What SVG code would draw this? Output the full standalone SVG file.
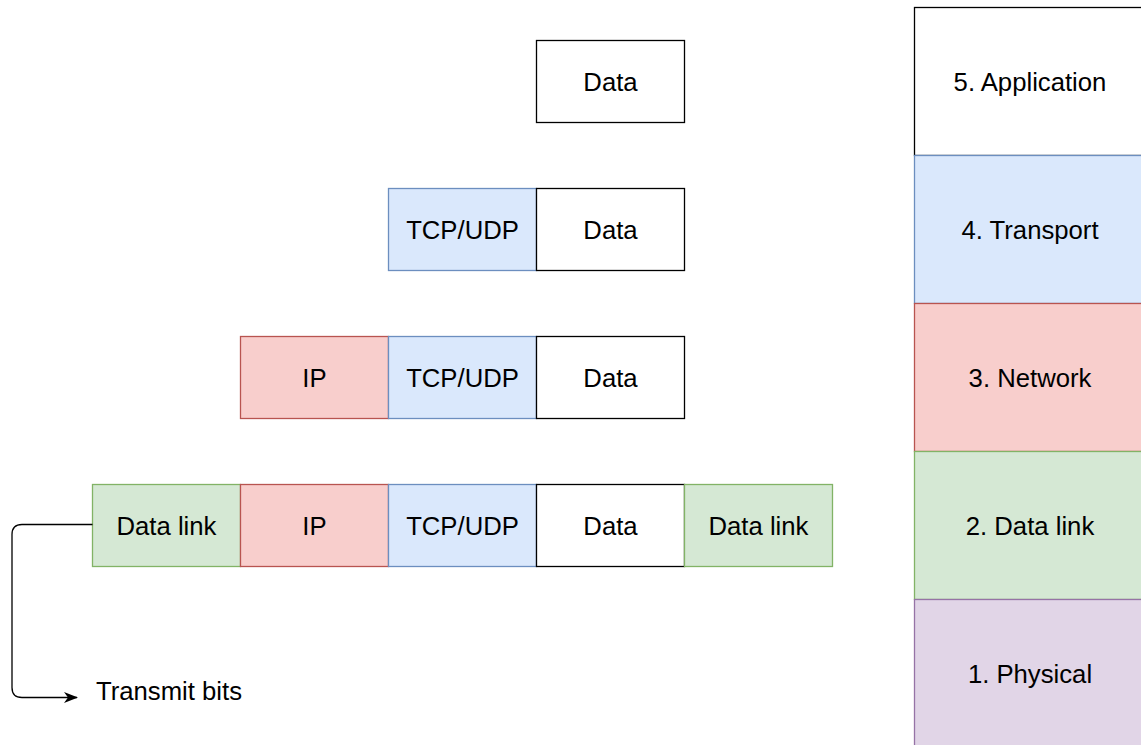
<svg xmlns="http://www.w3.org/2000/svg" width="1141" height="745" viewBox="0 0 1141 745">
<style>
text{font-family:"Liberation Sans",Arial,Helvetica,sans-serif;font-size:25.7px;fill:#000;text-anchor:middle}
.w{fill:#fff;stroke:#000;stroke-width:1.3}
.b{fill:#dae8fc;stroke:#6c8ebf;stroke-width:1.3}
.r{fill:#f8cecc;stroke:#b85450;stroke-width:1.3}
.g{fill:#d5e8d4;stroke:#82b366;stroke-width:1.3}
.p{fill:#e1d5e7;stroke:#9673a6;stroke-width:1.3}
.c{fill:none;stroke:#000;stroke-width:1.3}
</style>
<defs>
<marker id="ah" viewBox="0 0 14 12" refX="13" refY="6" markerWidth="14" markerHeight="12" markerUnits="userSpaceOnUse" orient="auto">
<path d="M0,0.5 L14,6 L0,11.5 L4,6 Z" fill="#000"/>
</marker>
</defs>
<g id="row1">
<g id="r1-data"><rect class="w" x="536.5" y="40.5" width="148" height="82"/><text x="610.5" y="90.5">Data</text></g>
</g>
<g id="row2">
<g id="r2-tcp"><rect class="b" x="388.5" y="188.5" width="148" height="82"/><text x="462.5" y="238.5">TCP/UDP</text></g>
<g id="r2-data"><rect class="w" x="536.5" y="188.5" width="148" height="82"/><text x="610.5" y="238.5">Data</text></g>
</g>
<g id="row3">
<g id="r3-ip"><rect class="r" x="240.5" y="336.5" width="148" height="82"/><text x="314.5" y="386.5">IP</text></g>
<g id="r3-tcp"><rect class="b" x="388.5" y="336.5" width="148" height="82"/><text x="462.5" y="386.5">TCP/UDP</text></g>
<g id="r3-data"><rect class="w" x="536.5" y="336.5" width="148" height="82"/><text x="610.5" y="386.5">Data</text></g>
</g>
<g id="row4">
<g id="r4-dl1"><rect class="g" x="92.5" y="484.5" width="148" height="82"/><text x="166.5" y="534.5">Data link</text></g>
<g id="r4-ip"><rect class="r" x="240.5" y="484.5" width="148" height="82"/><text x="314.5" y="534.5">IP</text></g>
<g id="r4-tcp"><rect class="b" x="388.5" y="484.5" width="148" height="82"/><text x="462.5" y="534.5">TCP/UDP</text></g>
<g id="r4-data"><rect class="w" x="536.5" y="484.5" width="148" height="82"/><text x="610.5" y="534.5">Data</text></g>
<g id="r4-dl2"><rect class="g" x="684.5" y="484.5" width="148" height="82"/><text x="758.5" y="534.5">Data link</text></g>
</g>
<g id="layers">
<g id="l5"><rect class="w" x="914.5" y="7.5" width="231" height="148"/><text x="1030" y="90.5">5. Application</text></g>
<g id="l4"><rect class="b" x="914.5" y="155.5" width="231" height="148"/><text x="1030" y="238.5">4. Transport</text></g>
<g id="l3"><rect class="r" x="914.5" y="303.5" width="231" height="148"/><text x="1030" y="386.5">3. Network</text></g>
<g id="l2"><rect class="g" x="914.5" y="451.5" width="231" height="148"/><text x="1030" y="534.5">2. Data link</text></g>
<g id="l1"><rect class="p" x="914.5" y="599.5" width="231" height="148"/><text x="1030" y="682.5">1. Physical</text></g>
</g>
<g id="label-transmit"><text x="96" y="700" style="text-anchor:start">Transmit bits</text></g>
<g id="connectors">
<path class="c" d="M92.5,524.5 H22 Q12,524.5 12,534.5 V687.5 Q12,697.5 22,697.5 H77" marker-end="url(#ah)"/>
</g>
</svg>
